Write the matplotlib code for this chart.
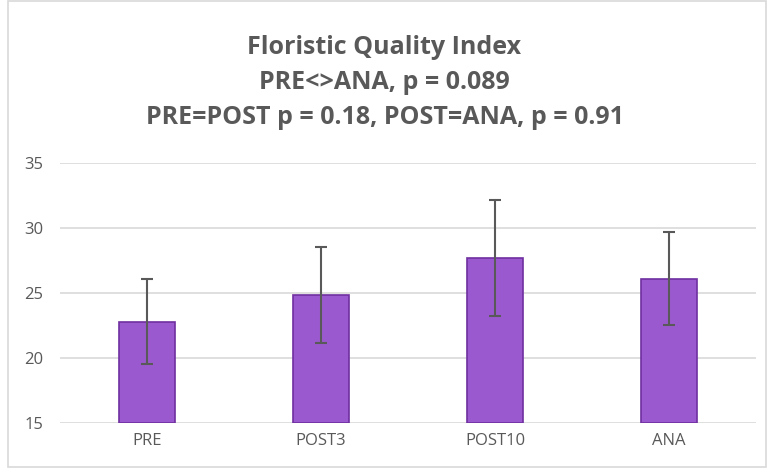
import numpy as np
import matplotlib.pyplot as plt
from matplotlib.patches import Rectangle

# Floristic Quality Index by sampling period
periods = ["PRE", "POST3", "POST10", "ANA"]
fqi_mean = [22.8, 24.85, 27.7, 26.1]
fqi_err = [3.25, 3.7, 4.45, 3.6]

title_lines = [
    "Floristic Quality Index",
    "PRE<>ANA, p = 0.089",
    "PRE=POST p = 0.18, POST=ANA, p = 0.91",
]

text_gray = "#595959"
grid_gray = "#D9D9D9"

fig = plt.figure(figsize=(7.69, 4.68), dpi=100)
ax = fig.add_axes([0.078, 0.096, 0.905, 0.556])

x = np.arange(len(periods))
ax.bar(x, [m - 15 for m in fqi_mean], bottom=15, width=0.32,
       color="#9B59CF", edgecolor="#7030A0", linewidth=1.2, zorder=3)
ax.errorbar(x, fqi_mean, yerr=fqi_err, fmt="none", ecolor=text_gray,
            elinewidth=1.5, capsize=4.5, capthick=1.5, zorder=4)

ax.set_xlim(-0.5, len(periods) - 0.5)
ax.set_ylim(15, 35)
ax.set_yticks([15, 20, 25, 30, 35])
ax.set_xticks(x)
ax.set_xticklabels(periods)
ax.grid(axis="y", color=grid_gray, linewidth=1.2, zorder=0)
for side in ["top", "right", "left", "bottom"]:
    ax.spines[side].set_visible(False)
ax.tick_params(axis="both", length=0, labelsize=12, labelcolor=text_gray)
ax.tick_params(axis="x", pad=7)
ax.tick_params(axis="y", pad=12)
for lbl in ax.get_xticklabels() + ax.get_yticklabels():
    lbl.set_family("Open Sans")

# three-line bold title
for i, line in enumerate(title_lines):
    fig.text(0.5, 0.899 - i * 0.0755, line, ha="center", va="center",
             fontsize=18, fontweight="bold", color=text_gray, family="Open Sans")

# light frame around the chart area
fig.patches.append(Rectangle((0.011, 0.002), 0.985, 0.996, transform=fig.transFigure,
                             fill=False, edgecolor=grid_gray, linewidth=1.2))

fig.savefig("out.png", dpi=100)
